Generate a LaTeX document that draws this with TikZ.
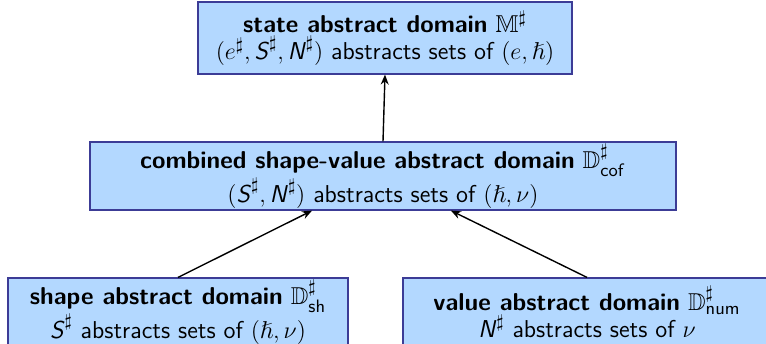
\documentclass[tikz,border=0pt]{standalone}
\usepackage{amsmath,amssymb}
\usetikzlibrary{arrows.meta}
\definecolor{boxfill}{RGB}{179,216,255}
\definecolor{boxdraw}{RGB}{60,60,150}
\newcommand{\sfS}{\textsf{\textit{S}}}
\newcommand{\sfN}{\textsf{\textit{N}}}
\tikzset{
  domainbox/.style={draw=boxdraw, fill=boxfill, line width=0.6pt, align=center,
    inner sep=0pt, font=\sffamily\fontsize{12.2}{13.6}\selectfont},
  link/.style={-{Stealth[length=5pt,width=4pt]}, line width=0.7pt, black}
}
\begin{document}
\begin{tikzpicture}[x=0.5pt,y=-0.5pt]
\useasboundingbox (0,0) rectangle (766,343);
\node[domainbox, minimum width=187pt, minimum height=36pt] (top) at (385,38)
  {\textbf{state abstract domain} $\mathbb{M}^\sharp$\\
   $(e^\sharp, \sfS^\sharp, \sfN^\sharp)$ abstracts sets of $(e, \hslash)$};
\node[domainbox, minimum width=293pt, minimum height=34pt] (mid) at (383,176)
  {\textbf{combined shape-value abstract domain} $\mathbb{D}^\sharp_{\mathsf{cof}}$\\
   $(\sfS^\sharp, \sfN^\sharp)$ abstracts sets of $(\hslash, \nu)$};
\node[domainbox, minimum width=170pt, minimum height=34pt] (bl) at (178,312)
  {\textbf{shape abstract domain} $\mathbb{D}^\sharp_{\mathsf{sh}}$\\
   $\sfS^\sharp$ abstracts sets of $(\hslash, \nu)$};
\node[domainbox, minimum width=184pt, minimum height=34pt] (br) at (587,312)
  {\textbf{value abstract domain} $\mathbb{D}^\sharp_{\mathsf{num}}$\\
   $\sfN^\sharp$ abstracts sets of $\nu$};
\draw[link] (mid.north) -- (top.south);
\draw[link] (bl.north) -- (mid.206.6);
\draw[link] (br.north) -- (mid.333.4);
\end{tikzpicture}
\end{document}
